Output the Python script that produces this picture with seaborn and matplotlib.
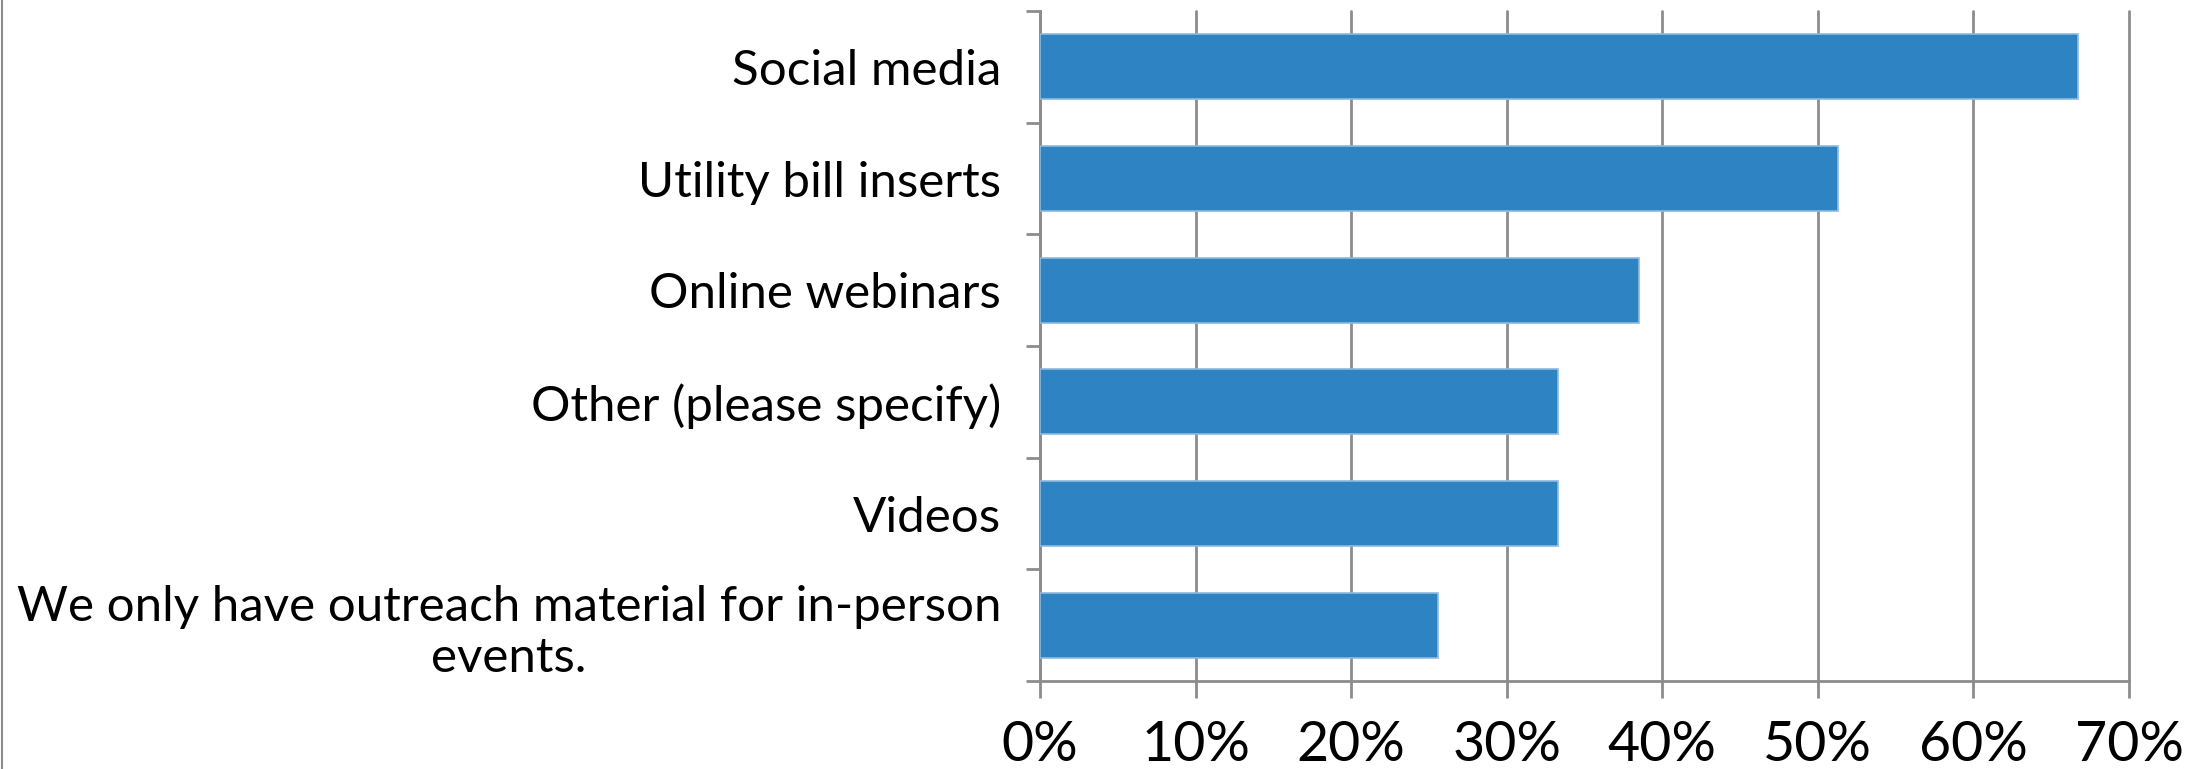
import matplotlib
matplotlib.use("Agg")
import matplotlib.pyplot as plt
from matplotlib.lines import Line2D
from matplotlib.ticker import FixedLocator, PercentFormatter
import seaborn as sns
import pandas as pd

categories = [
    "Social media",
    "Utility bill inserts",
    "Online webinars",
    "Other (please specify)",
    "Videos",
    "We only have outreach material for in-person\nevents.",
]
shares = [66.7, 51.3, 38.5, 33.3, 33.3, 25.6]
x_ticks = [0, 10, 20, 30, 40, 50, 60, 70]

BAR = "#2E84C3"
GRID = "#8C8C8C"

sns.set_style("white")
plt.rcParams["font.family"] = ["Lato", "DejaVu Sans"]
plt.rcParams["text.color"] = "black"
plt.rcParams["xtick.labelcolor"] = "black"
plt.rcParams["ytick.labelcolor"] = "black"

df = pd.DataFrame({"category": categories, "share": shares})

fig = plt.figure(figsize=(21.96, 7.69), dpi=100)
ax = fig.add_axes([0.4736, 0.1144, 0.4959, 0.8713])

sns.barplot(data=df, x="share", y="category", orient="h", color=BAR,
            saturation=1, width=0.58, edgecolor="#8DB9DF", linewidth=1.2,
            ax=ax, zorder=3)

ax.set_xlim(0, 70)
ax.set_ylim(len(categories) - 0.5, -0.5)
ax.set_xticks(x_ticks)
ax.xaxis.set_major_formatter(PercentFormatter(decimals=0))
ax.grid(axis="x", color=GRID, linewidth=2, zorder=0)
for gl in ax.get_xgridlines():
    gl.set_clip_on(False)
ax.set_xlabel("")
ax.set_ylabel("")

# category boundaries carry the tick marks on the y axis
ax.yaxis.set_minor_locator(FixedLocator([i - 0.5 for i in range(len(categories) + 1)]))
ax.tick_params(axis="y", which="major", length=0, pad=28, labelsize=35.5)
ax.tick_params(axis="y", which="minor", left=True, length=10, width=2, color=GRID)
ax.tick_params(axis="x", which="major", bottom=True, length=12, width=2, color=GRID,
               pad=16, labelsize=40)
for lab in ax.get_yticklabels():
    lab.set_multialignment("center")

for side in ["top", "right"]:
    ax.spines[side].set_visible(False)
for side in ["left", "bottom"]:
    ax.spines[side].set_color(GRID)
    ax.spines[side].set_linewidth(2)

fig.add_artist(Line2D([0.0008, 0.0008], [0, 1], color=GRID, linewidth=1.5))

fig.savefig("out.png", dpi=100)
